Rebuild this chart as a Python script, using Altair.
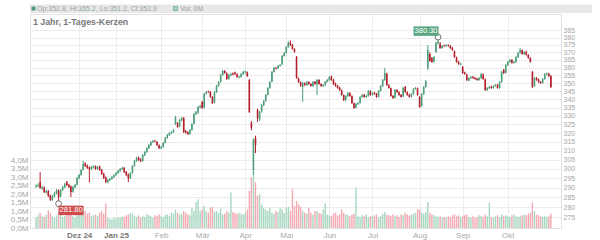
import altair as alt
import pandas as pd

# ---------------- data ----------------
month_idx = [21, 39, 61, 81, 102, 122, 143, 164, 187, 208, 230]
month_lbl = ["Dez 24", "Jan 25", "Feb", "Mär", "Apr", "Mai", "Jun", "Jul", "Aug", "Sep", "Okt"]
price_ticks = [275, 280, 285, 290, 295, 300, 305, 310, 315, 320, 325, 330, 335,
               340, 345, 350, 355, 360, 365, 370, 375, 380, 385]
vol_ticks = [0.0, 0.5, 1.0, 1.5, 2.0, 2.5, 3.0, 3.5, 4.0]

opens = [
    290.4, 290.9, 293.0, 289.6, 290.0, 287.6, 288.2, 285.9, 283.9, 285.5, 287.0, 288.6, 285.6, 288.9, 290.2, 293.0, 291.6, 290.6, 288.0, 290.2, 291.6,
    295.0, 296.8, 299.6, 303.0, 301.8, 300.8, 299.8, 300.6, 301.4, 300.0, 301.2, 299.6, 297.4, 295.4, 293.0, 294.0, 294.6, 295.6,
    296.8, 297.8, 298.8, 299.9, 300.6, 298.4, 297.0, 295.0, 297.9, 301.6, 304.2, 306.2, 305.2, 304.4, 307.5, 309.2, 311.4, 313.0, 314.8, 315.5, 314.9, 313.0,
    311.4, 312.0, 314.4, 317.1, 318.8, 319.9, 320.6, 325.3, 325.8, 323.8, 327.4, 328.8, 321.2, 320.4, 319.5, 321.8, 325.4, 331.0, 332.0, 335.2,
    338.4, 335.0, 343.4, 344.8, 344.5, 341.5, 338.0, 344.4, 348.2, 350.8, 355.2, 357.8, 356.4, 352.8, 355.0, 356.2, 356.9, 355.8, 353.6, 354.0, 355.8,
    356.8, 357.0, 352.1, 326.0, 299.4, 317.2, 333.6, 328.0, 332.6, 336.4, 339.0, 342.8, 347.0, 351.0, 357.2, 359.8, 359.6, 361.0, 362.0, 367.6,
    369.6, 373.6, 376.6, 375.0, 372.2, 366.9, 353.0, 350.6, 347.8, 350.0, 348.8, 350.8, 349.6, 348.2, 350.9, 349.4, 352.0, 349.6, 348.2, 348.8, 350.8,
    352.0, 354.2, 352.2, 349.8, 348.4, 347.2, 345.6, 342.6, 339.8, 342.0, 343.9, 342.0, 337.6, 335.0, 337.0, 337.8, 341.4, 342.8, 341.4, 342.0, 345.0,
    342.8, 344.0, 343.4, 341.6, 345.2, 348.2, 352.1, 356.0, 348.8, 346.8, 342.0, 341.0, 345.8, 344.4, 342.8, 341.8, 347.7, 344.4, 342.8, 341.6, 343.2, 346.4, 346.8,
    341.5, 336.0, 343.2, 347.6, 359.7, 369.0, 366.3, 363.8, 370.3, 376.0, 375.6, 373.0, 374.6, 374.2, 374.8, 374.4, 373.0, 370.6, 366.6, 363.8, 362.0,
    360.4, 356.8, 355.4, 351.6, 353.2, 354.0, 353.4, 352.8, 352.0, 353.2, 355.6, 352.4, 345.8, 346.8, 347.8, 347.0, 348.2, 349.0, 347.0, 350.8, 358.5, 356.6,
    361.6, 363.6, 365.0, 363.0, 363.6, 366.8, 369.6, 371.4, 368.8, 370.4, 368.2, 366.2, 357.2, 348.2, 353.3, 352.4, 350.8, 350.2, 352.6, 355.6, 356.0, 354.6,
]
highs = [
    291.8, 292.3, 298.3, 291.0, 290.8, 289.0, 288.8, 286.5, 286.3, 287.9, 289.4, 289.1, 289.3, 291.0, 292.6, 293.6, 292.0, 291.2, 291.0, 292.0, 295.7,
    297.3, 300.0, 304.3, 303.6, 302.4, 301.4, 301.6, 302.0, 301.9, 301.6, 301.8, 300.0, 297.9, 296.0, 294.7, 295.2, 296.2, 297.2,
    298.3, 299.4, 300.5, 301.2, 301.0, 298.9, 297.5, 298.3, 302.1, 304.9, 306.6, 306.8, 305.8, 308.1, 309.8, 312.0, 313.8, 315.4, 316.1, 316.2, 315.4, 313.5,
    312.7, 314.9, 317.7, 319.4, 320.5, 321.1, 322.3, 330.0, 326.4, 328.2, 329.4, 329.4, 321.8, 321.0, 322.3, 325.8, 331.8, 333.0, 336.0, 336.6,
    339.0, 344.0, 345.1, 345.4, 345.1, 342.0, 345.1, 348.9, 351.4, 355.9, 358.5, 358.4, 356.9, 355.9, 356.5, 356.9, 357.4, 356.3, 354.8, 356.5, 357.8,
    358.2, 357.5, 352.7, 327.0, 317.0, 318.5, 334.4, 333.0, 337.2, 339.6, 343.3, 347.6, 351.4, 357.8, 360.4, 360.4, 361.6, 362.3, 368.2, 370.2,
    374.3, 377.5, 378.0, 375.6, 372.8, 367.6, 353.6, 351.2, 350.8, 350.6, 351.4, 351.3, 350.0, 351.4, 351.4, 352.7, 352.6, 350.0, 349.5, 351.4, 352.7,
    354.6, 354.8, 352.8, 350.4, 349.0, 347.8, 346.0, 343.0, 342.7, 344.5, 344.4, 342.5, 338.0, 337.8, 338.4, 342.0, 343.3, 343.4, 342.7, 345.8, 345.6,
    344.5, 344.6, 343.9, 345.8, 348.9, 352.7, 359.7, 356.6, 349.4, 347.3, 342.6, 346.4, 346.3, 345.0, 343.3, 347.6, 348.3, 344.9, 343.4, 343.9, 347.0, 347.6, 347.3,
    342.0, 343.9, 348.3, 352.0, 374.9, 370.0, 366.9, 367.5, 377.0, 380.3, 377.0, 374.9, 375.2, 375.5, 375.4, 374.9, 373.6, 371.2, 367.2, 364.4, 363.2,
    361.0, 357.4, 356.0, 353.9, 354.6, 354.6, 354.0, 353.4, 353.9, 356.5, 356.2, 353.0, 347.6, 348.3, 348.4, 348.9, 349.5, 349.6, 351.4, 357.8, 359.1, 362.3,
    364.3, 365.6, 365.6, 364.3, 367.5, 370.2, 372.9, 372.0, 370.9, 371.0, 368.8, 366.8, 357.8, 354.0, 353.9, 353.0, 351.4, 353.3, 356.5, 356.8, 356.6, 355.2,
]
lows = [
    289.9, 290.4, 289.4, 288.8, 287.2, 286.9, 285.2, 283.2, 283.3, 285.0, 286.6, 281.8, 285.0, 288.3, 289.8, 290.9, 289.8, 285.2, 287.4, 289.7, 291.1,
    294.5, 296.3, 299.1, 301.0, 300.0, 292.8, 299.3, 300.2, 299.5, 299.6, 299.0, 296.8, 294.6, 292.4, 292.3, 293.5, 294.2, 295.2,
    296.2, 297.3, 298.3, 299.5, 297.8, 296.2, 293.0, 294.6, 297.5, 301.2, 303.8, 304.4, 303.6, 304.0, 307.0, 308.8, 311.0, 312.6, 314.3, 314.8, 312.6, 310.9,
    310.8, 311.6, 314.0, 316.7, 318.3, 319.4, 320.1, 324.6, 323.0, 323.4, 326.8, 320.0, 319.6, 318.9, 319.0, 321.3, 325.0, 330.6, 331.4, 334.6,
    334.2, 334.6, 342.9, 344.0, 341.0, 337.2, 337.6, 344.0, 347.8, 350.4, 354.8, 356.0, 352.1, 352.3, 354.5, 355.0, 355.3, 353.5, 353.0, 353.6, 355.4,
    356.2, 354.0, 331.8, 321.5, 297.0, 308.7, 326.4, 327.0, 332.0, 336.0, 338.6, 342.4, 346.6, 350.6, 356.8, 358.8, 359.2, 360.6, 361.6, 367.2,
    369.2, 373.2, 374.3, 371.8, 369.8, 352.8, 350.2, 347.8, 338.4, 348.3, 348.4, 349.0, 347.8, 347.8, 349.0, 342.7, 349.0, 347.8, 347.7, 348.4, 350.4,
    351.6, 351.6, 349.0, 347.8, 346.6, 345.2, 342.2, 339.0, 338.8, 341.6, 341.6, 337.2, 334.2, 334.6, 336.6, 337.4, 341.0, 341.0, 341.0, 341.6, 342.2,
    342.4, 342.8, 341.0, 341.2, 344.8, 347.8, 351.6, 348.3, 346.6, 341.6, 340.3, 340.6, 344.0, 342.2, 341.0, 341.4, 344.0, 342.2, 341.0, 341.2, 342.8, 346.0, 342.2,
    334.8, 335.6, 342.8, 347.2, 358.5, 363.8, 363.2, 363.4, 369.8, 375.4, 372.3, 372.6, 373.8, 373.8, 373.8, 372.4, 371.0, 366.4, 363.2, 361.8, 361.4,
    356.0, 355.4, 351.4, 351.2, 352.8, 352.8, 352.2, 351.6, 351.6, 352.8, 352.2, 345.2, 345.2, 346.4, 346.6, 346.6, 347.8, 346.6, 346.6, 350.4, 356.0, 356.2,
    361.2, 363.2, 362.6, 362.6, 363.2, 366.4, 369.2, 368.4, 368.4, 367.8, 365.8, 363.2, 347.0, 347.8, 351.6, 350.2, 349.6, 349.8, 352.2, 355.0, 354.0, 347.0,
]
closes = [
    290.9, 291.4, 289.9, 290.2, 287.8, 288.3, 285.7, 283.7, 285.7, 287.3, 288.8, 285.2, 288.8, 290.4, 292.0, 291.4, 290.4, 287.8, 290.4, 291.4, 295.1,
    296.7, 299.4, 302.7, 301.6, 300.5, 300.0, 301.0, 301.3, 300.0, 301.0, 299.4, 297.3, 295.1, 293.0, 294.1, 294.6, 295.7, 296.7,
    297.8, 298.9, 300.0, 300.5, 298.3, 296.7, 295.1, 297.8, 301.6, 304.3, 306.0, 304.9, 304.3, 307.6, 309.3, 311.5, 313.2, 314.9, 315.5, 315.2, 313.2, 311.5,
    312.1, 314.3, 317.2, 318.9, 320.0, 320.6, 321.8, 329.4, 323.5, 327.6, 328.8, 320.6, 320.4, 319.5, 321.8, 325.3, 331.2, 332.2, 335.4, 336.0,
    334.8, 343.3, 344.5, 344.5, 341.5, 337.8, 344.5, 348.3, 350.8, 355.2, 357.8, 356.5, 352.7, 355.2, 355.9, 355.6, 355.9, 354.0, 354.2, 355.9, 357.2,
    357.6, 354.6, 332.4, 323.0, 316.0, 313.2, 328.8, 332.4, 336.6, 339.0, 342.7, 347.0, 350.8, 357.2, 359.7, 359.4, 361.0, 361.7, 367.6, 369.6,
    373.6, 376.3, 374.9, 372.3, 370.3, 353.3, 350.8, 348.3, 350.2, 348.9, 350.8, 349.5, 348.3, 350.8, 349.5, 352.1, 349.5, 348.3, 348.9, 350.8, 352.1,
    354.0, 352.1, 349.5, 348.3, 347.0, 345.8, 342.7, 339.6, 342.1, 343.9, 342.1, 337.8, 334.8, 337.2, 337.8, 341.5, 342.7, 341.5, 342.1, 345.2, 342.7,
    343.9, 343.3, 341.5, 345.2, 348.3, 352.1, 356.5, 348.9, 347.0, 342.1, 340.8, 345.8, 344.5, 342.7, 341.5, 347.0, 344.5, 342.7, 341.5, 343.3, 346.4, 347.0, 342.7,
    335.4, 343.3, 347.7, 351.4, 371.6, 364.3, 363.7, 366.9, 376.3, 377.4, 372.9, 374.3, 374.0, 374.9, 374.3, 372.9, 371.6, 366.9, 363.7, 362.3, 362.6,
    356.5, 355.9, 352.1, 353.3, 354.0, 353.3, 352.7, 352.1, 353.3, 355.9, 352.7, 345.8, 347.0, 347.7, 347.0, 348.3, 348.9, 347.0, 350.8, 357.2, 356.5, 361.7,
    363.7, 365.0, 363.0, 363.7, 366.9, 369.6, 371.6, 368.9, 370.3, 368.3, 366.3, 363.7, 347.7, 353.3, 352.1, 350.8, 350.2, 352.7, 355.9, 356.2, 354.6, 347.7,
]
volumes = [  # millions
    0.6, 0.75, 0.9, 0.7, 0.65, 0.8, 1.05, 0.9, 0.7, 0.6, 0.75, 1.0, 0.8, 0.65, 0.7, 1.0, 0.85, 0.9, 0.7, 0.6, 0.75,
    0.8, 0.9, 1.05, 1.0, 0.85, 0.9, 0.7, 0.75, 0.8, 0.7, 0.9, 1.0, 0.85, 1.45, 0.6, 0.55, 0.5, 0.6,
    0.55, 0.65, 0.6, 0.7, 0.65, 0.75, 0.8, 0.9, 0.85, 0.7, 0.65, 0.75, 0.6, 0.7, 0.65, 0.8, 0.75, 0.7, 0.6, 0.75, 0.7, 0.8,
    0.7, 0.65, 0.75, 0.8, 0.7, 0.9, 0.85, 1.1, 0.9, 0.8, 0.85, 1.0, 0.9, 0.8, 0.75, 1.2, 1.0, 1.55, 1.7, 1.0,
    1.1, 1.3, 1.0, 0.9, 1.2, 1.25, 0.95, 1.0, 0.9, 1.15, 0.8, 0.85, 1.0, 0.9, 2.1, 0.95, 0.9, 0.85, 0.9, 0.85, 0.8,
    0.9, 1.1, 2.2, 3.0, 3.4, 2.7, 1.9, 2.0, 1.4, 1.2, 1.1, 1.0, 1.2, 0.9, 0.85, 1.0, 0.95, 1.2, 1.1, 0.9,
    1.2, 1.25, 1.0, 2.3, 1.3, 1.6, 1.4, 1.25, 1.0, 0.9, 0.85, 1.2, 0.9, 0.8, 1.0, 1.0, 0.9, 0.85, 1.1, 1.45, 0.8,
    0.75, 0.7, 0.85, 0.9, 0.75, 0.8, 1.1, 0.9, 0.8, 0.75, 0.7, 0.8, 0.85, 2.4, 0.7, 0.65, 0.75, 0.7, 0.8, 0.65, 0.7,
    0.7, 0.75, 0.8, 0.65, 0.7, 0.85, 0.95, 0.8, 0.75, 0.7, 0.8, 0.7, 0.75, 0.65, 0.8, 0.75, 0.9, 0.8, 0.75, 0.8, 0.85, 0.9, 1.1,
    1.1, 0.9, 0.85, 0.95, 1.55, 0.9, 0.8, 0.75, 0.7, 0.65, 0.7, 0.6, 0.65, 0.6, 0.7, 0.65, 0.75, 0.8, 0.7, 0.75, 0.65,
    0.7, 0.75, 0.8, 0.65, 0.6, 0.7, 0.6, 0.65, 0.75, 0.7, 0.65, 0.8, 0.7, 1.5, 0.65, 0.6, 0.7, 0.75, 0.65, 0.8, 0.7, 0.75,
    0.7, 0.65, 0.75, 0.8, 0.7, 0.65, 0.7, 0.75, 0.8, 0.75, 0.85, 0.9, 1.5, 1.0, 0.8, 0.75, 0.7, 0.65, 0.7, 0.65, 0.7, 0.85,
]

low_idx, low_val, low_lbl = 11, 281.80, "281.80"
high_idx, high_val, high_lbl = 196, 380.30, "380.30"
header_text = "Op:352.8, Hi:355.2, Lo:351.2, Cl:352.9"
vol_text = "Vol: 0M"
title_text = "1 Jahr, 1-Tages-Kerzen"

# ---------------- styling ----------------
FONT = "Liberation Sans"
GREEN, RED = "#4f9f7b", "#b5202d"
VGREEN, VRED = "#a7d7c0", "#f3a9b2"
GRID = "#ececec"
LAB = "#a6a6a6"

n = min(len(opens), len(highs), len(lows), len(closes), len(volumes))
df = pd.DataFrame({
    "i": list(range(n)),
    "o": opens[:n], "h": highs[:n], "l": lows[:n], "c": closes[:n], "v": volumes[:n],
})
df["h"] = df[["h", "o", "c"]].max(axis=1)
df["l"] = df[["l", "o", "c"]].min(axis=1)
df["dir"] = ["up" if c >= o else "down" for o, c in zip(df["o"], df["c"])]

label_expr = "".join(f"datum.value == {i} ? '{l}' : " for i, l in zip(month_idx, month_lbl)) + "''"

x_enc = alt.X(
    "i:Q",
    scale=alt.Scale(domain=[-0.5, 253.5], nice=False, zero=False),
    axis=alt.Axis(
        values=month_idx, labelExpr=label_expr, title=None, grid=True, gridColor=GRID,
        domain=False, ticks=False, labelPadding=3, labelFontSize=8, labelFont=FONT,
        labelColor={"expr": "datum.value < 50 ? '#777777' : '#aaaaaa'"},
        labelFontWeight={"expr": "datum.value < 50 ? 'bold' : 'normal'"},
        labelOverlap=False, labelFlush=False,
    ),
)

price_scale = alt.Scale(type="log", domain=[269.74, 396.46], nice=False, zero=False)
price_axis = alt.Axis(
    orient="right", values=price_ticks, format="d", title=None, grid=True, gridColor=GRID,
    domain=False, ticks=False, labelPadding=2, labelFontSize=7, labelFont=FONT,
    labelColor=LAB, labelOverlap=False,
)
vol_scale = alt.Scale(domain=[0, 12.68], nice=False, zero=True)
vol_axis = alt.Axis(
    orient="left", values=vol_ticks, title=None, grid=False, domain=False, ticks=False,
    labelPadding=2, labelFontSize=8, labelFont=FONT, labelColor=LAB, labelOverlap=False,
    labelExpr="replace(format(datum.value, '.1f'), '.', ',') + 'M'",
)

up = alt.datum.dir == "up"
candle_color = alt.when(up).then(alt.value(GREEN)).otherwise(alt.value(RED))
vol_color = alt.when(up).then(alt.value(VGREEN)).otherwise(alt.value(VRED))

base = alt.Chart(df)

volume = base.mark_bar(size=1.4).encode(
    x=x_enc,
    y=alt.Y("v:Q", scale=vol_scale, axis=vol_axis),
    color=vol_color,
)

wicks = base.mark_rule(strokeWidth=1).encode(
    x=x_enc,
    y=alt.Y("l:Q", scale=price_scale, axis=price_axis),
    y2="h:Q",
    color=candle_color,
)
bodies = base.mark_bar(size=1.6).encode(
    x=x_enc,
    y=alt.Y("o:Q", scale=price_scale, axis=price_axis),
    y2="c:Q",
    color=candle_color,
)

marks_df = pd.DataFrame({"i": [low_idx, high_idx], "p": [low_val, high_val]})
circles = alt.Chart(marks_df).mark_point(
    shape="circle", size=34, filled=True, fill="white", stroke="#707070", strokeWidth=1, opacity=1
).encode(x=x_enc, y=alt.Y("p:Q", scale=price_scale, axis=price_axis))

BOX = "M-1,-0.38L1,-0.38L1,0.38L-1,0.38Z"


def flag(idx, val, text, fill, dx, dy):
    d = pd.DataFrame({"i": [idx], "p": [val], "t": [text]})
    box = alt.Chart(d).mark_point(
        shape=BOX, size=625, filled=True, fill=fill, strokeWidth=0, opacity=1,
        xOffset=dx, yOffset=dy,
    ).encode(x=x_enc, y=alt.Y("p:Q", scale=price_scale, axis=price_axis))
    txt = alt.Chart(d).mark_text(
        font=FONT, fontSize=7.5, color="white", dx=dx, dy=dy, align="center", baseline="middle",
    ).encode(x=x_enc, y=alt.Y("p:Q", scale=price_scale, axis=price_axis), text="t:N")
    return box + txt


low_flag = flag(low_idx, low_val, low_lbl, "#d04c4c", 12.5, 6.7)
high_flag = flag(high_idx, high_val, high_lbl, "#5ba782", -12, -6)

price = alt.layer(wicks, bodies, circles, low_flag, high_flag)

one = pd.DataFrame({"k": [0]})
hdr_bar = alt.Chart(one).mark_rect(color="#e8e8e8").encode(
    x=alt.value(0), x2=alt.value(562), y=alt.value(-9.5), y2=alt.value(-1))
hdr_sq1 = alt.Chart(one).mark_rect(color=GREEN).encode(
    x=alt.value(1.5), x2=alt.value(5.5), y=alt.value(-7.5), y2=alt.value(-3.5))
hdr_sq2 = alt.Chart(one).mark_rect(fill=VGREEN, stroke="#6aa88a", strokeWidth=0.8).encode(
    x=alt.value(143.5), x2=alt.value(147.5), y=alt.value(-7.5), y2=alt.value(-3.5))
hdr_txt = alt.Chart(one).mark_text(
    font=FONT, fontSize=7, color="#93a69a", align="left", baseline="middle"
).encode(x=alt.value(7), y=alt.value(-5.3), text=alt.value(header_text))
hdr_vol = alt.Chart(one).mark_text(
    font=FONT, fontSize=7, color="#93a69a", align="left", baseline="middle"
).encode(x=alt.value(150), y=alt.value(-5.3), text=alt.value(vol_text))
title = alt.Chart(one).mark_text(
    font=FONT, fontSize=8.8, fontWeight="bold", color="#777777", align="left", baseline="middle"
).encode(x=alt.value(3), y=alt.value(7.5), text=alt.value(title_text))

decor = alt.layer(hdr_bar, hdr_sq1, hdr_sq2, hdr_txt, hdr_vol, title)

chart = alt.layer(volume, price, decor).resolve_scale(y="independent").properties(
    width=531,
    height=214,
    autosize=alt.AutoSizeParams(type="none"),
    padding={"left": 30, "top": 14, "right": 39, "bottom": 12},
    background="white",
).configure_view(stroke="#e2e2e2")

chart.save("out.html", embed_options={"renderer": "svg", "actions": False})
